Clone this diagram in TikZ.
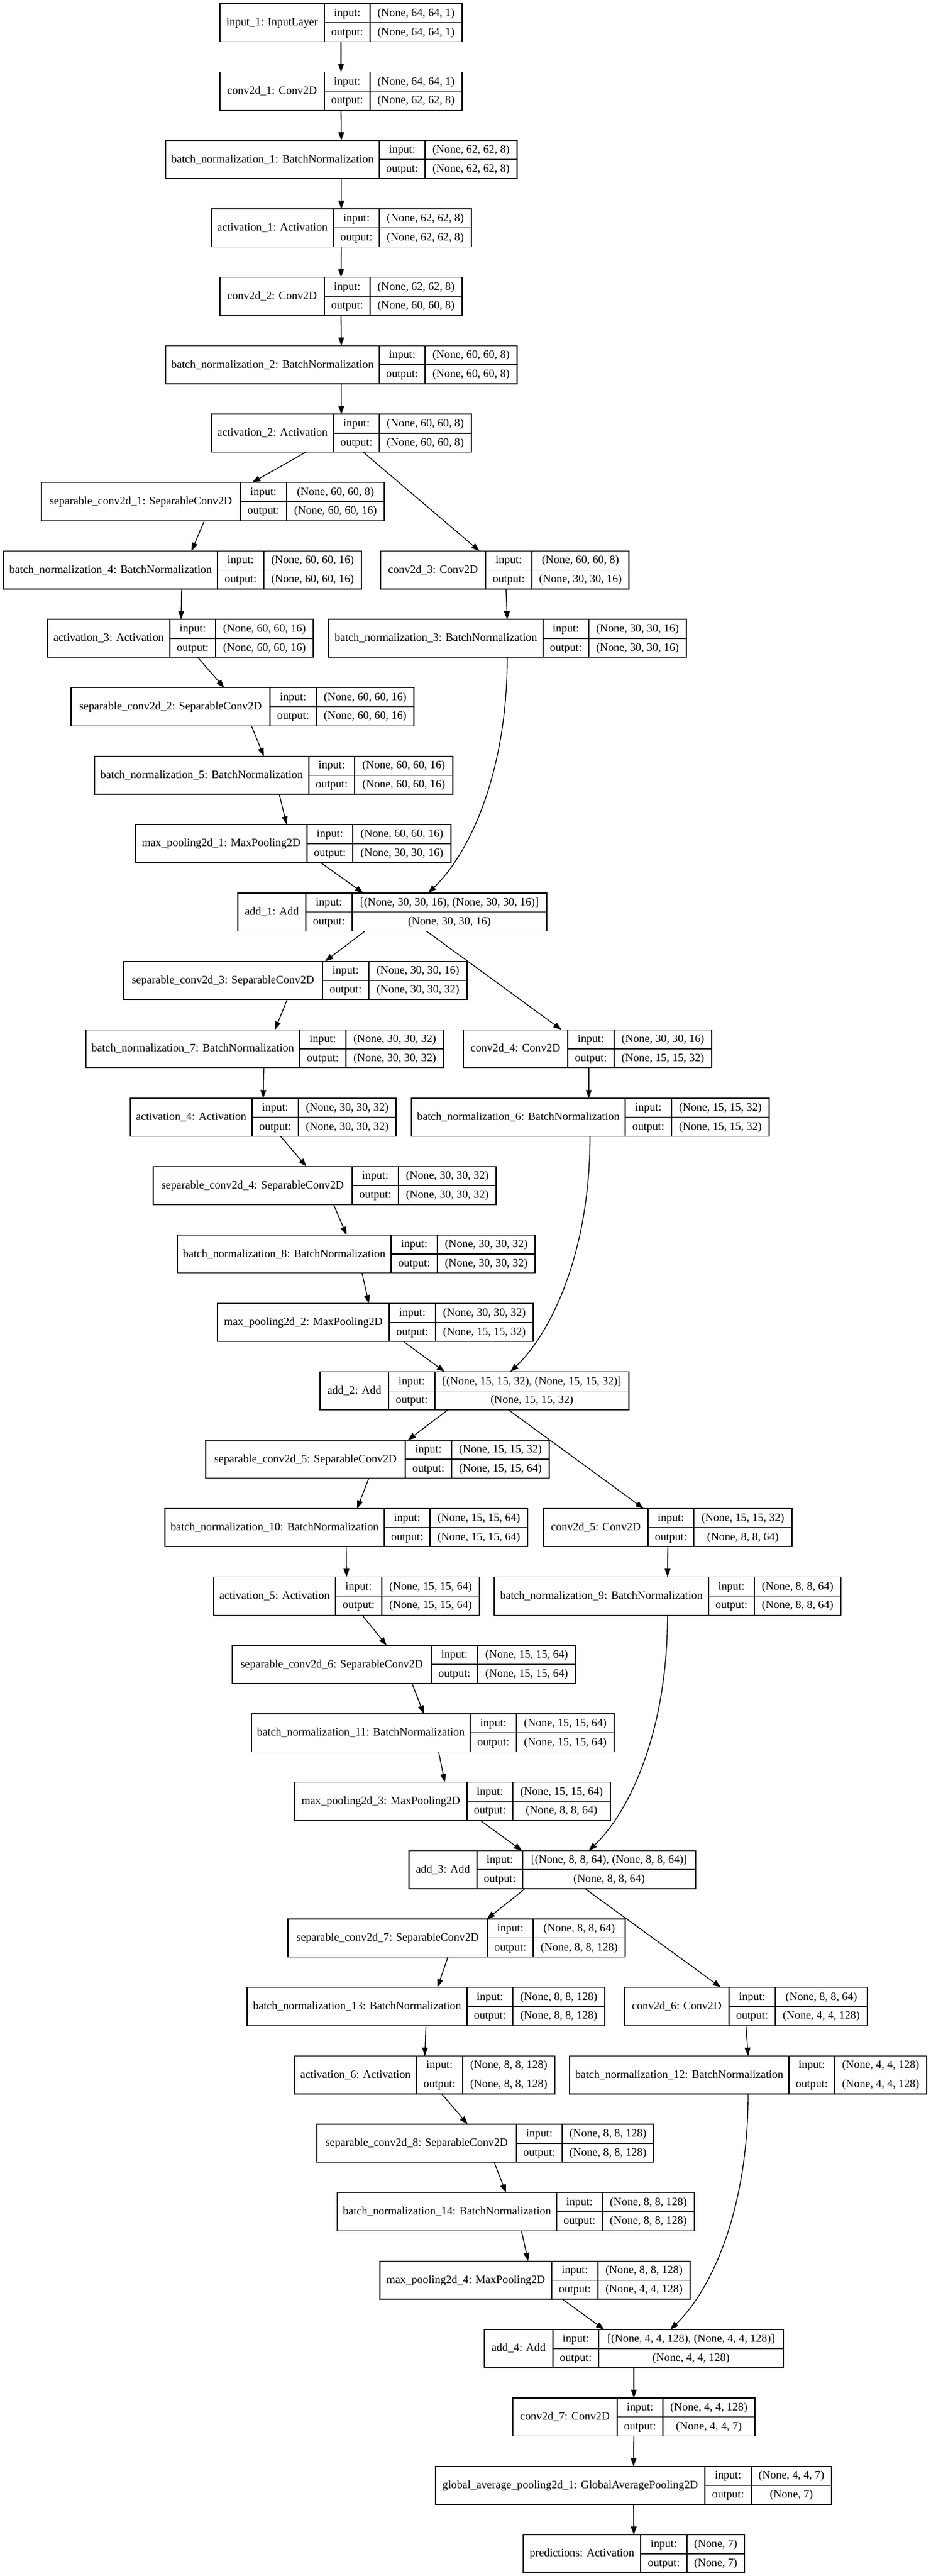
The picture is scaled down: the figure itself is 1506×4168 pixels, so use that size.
\documentclass[tikz,border=0pt]{standalone}
\usepackage{fontspec}
\setmainfont{Liberation Serif}
\usetikzlibrary{arrows.meta,calc,fit}
\tikzset{
  box/.style={draw, line width=1pt, inner sep=0pt, outer sep=0pt},
  cell/.style={line width=1pt},
  txt/.style={inner sep=0pt, anchor=base, font=\fontsize{13.7}{16}\selectfont},
  edge/.style={line width=1pt, -{Triangle[length=10pt,width=7pt]}},
}
\newcommand\kerasLayer[9]{%
  \pgfmathsetmacro\ytop{6+110.68*#2}%
  \pgfmathsetmacro\ybot{\ytop+61.5}%
  \pgfmathsetmacro\ymid{\ytop+30.75}%
  \node[box, fit={(#3,\ytop) (#6,\ybot)}] (#1) {};
  \draw[cell] (#4,\ytop) -- (#4,\ybot) (#5,\ytop) -- (#5,\ybot) (#4,\ymid) -- (#6,\ymid);
  \node[txt] (#1-lab) at ({(#3+#4)/2},\ymid+5) {#7};
  \node[txt] (#1-in) at ({(#4+#5)/2},\ytop+20.4) {input:};
  \node[txt] (#1-out) at ({(#4+#5)/2},\ymid+20.4) {output:};
  \node[txt] (#1-iv) at ({(#5+#6)/2},\ytop+20.4) {#8};
  \node[txt] (#1-ov) at ({(#5+#6)/2},\ymid+20.4) {#9};
}
\newcommand\edgeS[4]{\draw[edge] ($(#1.south)+(#2,0)$) -- ($(#3.north)+(#4,0)$);}
\newcommand\edgeC[4]{\draw[edge] ($(#1.south)+(#2,0)$) .. controls +(0,187) and +(67,-64) .. ($(#3.north)+(#4,0)$);}
\begin{document}
\begin{tikzpicture}[x=0.75pt, y=-0.75pt]
\fill[white] (0,0) rectangle (1506,4168);
\useasboundingbox (0,0) rectangle (1506,4168);
\kerasLayer{in1}{0}{356}{525}{599}{748}{input\_1: InputLayer}{(None, 64, 64, 1)}{(None, 64, 64, 1)}
\kerasLayer{c1}{1}{356}{525}{599}{748}{conv2d\_1: Conv2D}{(None, 64, 64, 1)}{(None, 62, 62, 8)}
\kerasLayer{bn1}{2}{268}{614}{688}{837}{batch\_normalization\_1: BatchNormalization}{(None, 62, 62, 8)}{(None, 62, 62, 8)}
\kerasLayer{a1}{3}{342}{540}{614}{763}{activation\_1: Activation}{(None, 62, 62, 8)}{(None, 62, 62, 8)}
\kerasLayer{c2}{4}{356}{525}{599}{748}{conv2d\_2: Conv2D}{(None, 62, 62, 8)}{(None, 60, 60, 8)}
\kerasLayer{bn2}{5}{268}{614}{688}{837}{batch\_normalization\_2: BatchNormalization}{(None, 60, 60, 8)}{(None, 60, 60, 8)}
\kerasLayer{a2}{6}{342}{540}{614}{763}{activation\_2: Activation}{(None, 60, 60, 8)}{(None, 60, 60, 8)}
\kerasLayer{s1}{7}{67}{389}{464}{622}{separable\_conv2d\_1: SeparableConv2D}{(None, 60, 60, 8)}{(None, 60, 60, 16)}
\kerasLayer{bn4}{8}{6}{352}{427}{585}{batch\_normalization\_4: BatchNormalization}{(None, 60, 60, 16)}{(None, 60, 60, 16)}
\kerasLayer{c3}{8}{616}{786}{861}{1018}{conv2d\_3: Conv2D}{(None, 60, 60, 8)}{(None, 30, 30, 16)}
\kerasLayer{a3}{9}{77}{275}{349}{507}{activation\_3: Activation}{(None, 60, 60, 16)}{(None, 60, 60, 16)}
\kerasLayer{bn3}{9}{532}{879}{953}{1111}{batch\_normalization\_3: BatchNormalization}{(None, 30, 30, 16)}{(None, 30, 30, 16)}
\kerasLayer{s2}{10}{115}{437}{512}{670}{separable\_conv2d\_2: SeparableConv2D}{(None, 60, 60, 16)}{(None, 60, 60, 16)}
\kerasLayer{bn5}{11}{153}{500}{574}{733}{batch\_normalization\_5: BatchNormalization}{(None, 60, 60, 16)}{(None, 60, 60, 16)}
\kerasLayer{mp1}{12}{219}{497}{571}{730}{max\_pooling2d\_1: MaxPooling2D}{(None, 60, 60, 16)}{(None, 30, 30, 16)}
\kerasLayer{add1}{13}{385}{495}{570}{885}{add\_1: Add}{[(None, 30, 30, 16), (None, 30, 30, 16)]}{(None, 30, 30, 16)}
\kerasLayer{s3}{14}{200}{522}{597}{756}{separable\_conv2d\_3: SeparableConv2D}{(None, 30, 30, 16)}{(None, 30, 30, 32)}
\kerasLayer{bn7}{15}{139}{485}{560}{718}{batch\_normalization\_7: BatchNormalization}{(None, 30, 30, 32)}{(None, 30, 30, 32)}
\kerasLayer{c4}{15}{750}{919}{994}{1152}{conv2d\_4: Conv2D}{(None, 30, 30, 16)}{(None, 15, 15, 32)}
\kerasLayer{a4}{16}{211}{408}{483}{641}{activation\_4: Activation}{(None, 30, 30, 32)}{(None, 30, 30, 32)}
\kerasLayer{bn6}{16}{666}{1012}{1087}{1245}{batch\_normalization\_6: BatchNormalization}{(None, 15, 15, 32)}{(None, 15, 15, 32)}
\kerasLayer{s4}{17}{248}{570}{645}{803}{separable\_conv2d\_4: SeparableConv2D}{(None, 30, 30, 32)}{(None, 30, 30, 32)}
\kerasLayer{bn8}{18}{287}{633}{708}{866}{batch\_normalization\_8: BatchNormalization}{(None, 30, 30, 32)}{(None, 30, 30, 32)}
\kerasLayer{mp2}{19}{352}{630}{705}{863}{max\_pooling2d\_2: MaxPooling2D}{(None, 30, 30, 32)}{(None, 15, 15, 32)}
\kerasLayer{add2}{20}{518}{629}{704}{1018}{add\_2: Add}{[(None, 15, 15, 32), (None, 15, 15, 32)]}{(None, 15, 15, 32)}
\kerasLayer{s5}{21}{333}{656}{731}{889}{separable\_conv2d\_5: SeparableConv2D}{(None, 15, 15, 32)}{(None, 15, 15, 64)}
\kerasLayer{bn10}{22}{267}{622}{696}{854}{batch\_normalization\_10: BatchNormalization}{(None, 15, 15, 64)}{(None, 15, 15, 64)}
\kerasLayer{c5}{22}{880}{1049}{1123}{1282}{conv2d\_5: Conv2D}{(None, 15, 15, 32)}{(None, 8, 8, 64)}
\kerasLayer{a5}{23}{346}{543}{618}{776}{activation\_5: Activation}{(None, 15, 15, 64)}{(None, 15, 15, 64)}
\kerasLayer{bn9}{23}{800}{1147}{1221}{1361}{batch\_normalization\_9: BatchNormalization}{(None, 8, 8, 64)}{(None, 8, 8, 64)}
\kerasLayer{s6}{24}{376}{698}{773}{932}{separable\_conv2d\_6: SeparableConv2D}{(None, 15, 15, 64)}{(None, 15, 15, 64)}
\kerasLayer{bn11}{25}{407}{761}{836}{994}{batch\_normalization\_11: BatchNormalization}{(None, 15, 15, 64)}{(None, 15, 15, 64)}
\kerasLayer{mp3}{26}{477}{756}{830}{988}{max\_pooling2d\_3: MaxPooling2D}{(None, 15, 15, 64)}{(None, 8, 8, 64)}
\kerasLayer{add3}{27}{662}{772}{846}{1126}{add\_3: Add}{[(None, 8, 8, 64), (None, 8, 8, 64)]}{(None, 8, 8, 64)}
\kerasLayer{s7}{28}{466}{789}{863}{1012}{separable\_conv2d\_7: SeparableConv2D}{(None, 8, 8, 64)}{(None, 8, 8, 128)}
\kerasLayer{bn13}{29}{400}{756}{830}{979}{batch\_normalization\_13: BatchNormalization}{(None, 8, 8, 128)}{(None, 8, 8, 128)}
\kerasLayer{c6}{29}{1011}{1180}{1255}{1404}{conv2d\_6: Conv2D}{(None, 8, 8, 64)}{(None, 4, 4, 128)}
\kerasLayer{a6}{30}{477}{674}{749}{898}{activation\_6: Activation}{(None, 8, 8, 128)}{(None, 8, 8, 128)}
\kerasLayer{bn12}{30}{922}{1277}{1351}{1500}{batch\_normalization\_12: BatchNormalization}{(None, 4, 4, 128)}{(None, 4, 4, 128)}
\kerasLayer{s8}{31}{513}{836}{910}{1058}{separable\_conv2d\_8: SeparableConv2D}{(None, 8, 8, 128)}{(None, 8, 8, 128)}
\kerasLayer{bn14}{32}{546}{901}{975}{1124}{batch\_normalization\_14: BatchNormalization}{(None, 8, 8, 128)}{(None, 8, 8, 128)}
\kerasLayer{mp4}{33}{615}{893}{968}{1117}{max\_pooling2d\_4: MaxPooling2D}{(None, 8, 8, 128)}{(None, 4, 4, 128)}
\kerasLayer{add4}{34}{784}{895}{969}{1268}{add\_4: Add}{[(None, 4, 4, 128), (None, 4, 4, 128)]}{(None, 4, 4, 128)}
\kerasLayer{c7}{35}{830}{999}{1073}{1222}{conv2d\_7: Conv2D}{(None, 4, 4, 128)}{(None, 4, 4, 7)}
\kerasLayer{gap}{36}{705}{1141}{1216}{1346}{global\_average\_pooling2d\_1: GlobalAveragePooling2D}{(None, 4, 4, 7)}{(None, 7)}
\kerasLayer{pred}{37}{847}{1037}{1112}{1205}{predictions: Activation}{(None, 7)}{(None, 7)}
\edgeS{in1}{0}{c1}{0}
\edgeS{c1}{0}{bn1}{0}
\edgeS{bn1}{0}{a1}{0}
\edgeS{a1}{0}{c2}{0}
\edgeS{c2}{0}{bn2}{0}
\edgeS{bn2}{0}{a2}{0}
\edgeS{a2}{-57.5}{s1}{63.5}
\edgeS{a2}{35.5}{c3}{-41}
\edgeS{s1}{-13.5}{bn4}{14.5}
\edgeS{bn4}{-1.5}{a3}{1}
\edgeS{c3}{2}{bn3}{-0.5}
\edgeS{a3}{28}{s2}{-29.5}
\edgeS{s2}{14.5}{bn5}{-16}
\edgeS{bn5}{9}{mp1}{-10.5}
\edgeS{mp1}{44.5}{add1}{-47}
\edgeC{bn3}{-0.5}{add1}{58}
\edgeS{add1}{-44}{s3}{48}
\edgeS{add1}{55}{c4}{-42}
\edgeS{s3}{-13}{bn7}{16.5}
\edgeS{bn7}{-1.5}{a4}{0}
\edgeS{c4}{2}{bn6}{-2.5}
\edgeS{a4}{28}{s4}{-29.5}
\edgeS{s4}{14.5}{bn8}{-15.5}
\edgeS{bn8}{9.5}{mp2}{-10.5}
\edgeS{mp2}{45.5}{add2}{-48}
\edgeC{bn6}{-0.5}{add2}{58}
\edgeS{add2}{-43}{s5}{49}
\edgeS{add2}{55}{c5}{-39}
\edgeS{s5}{-14}{bn10}{17.5}
\edgeS{bn10}{0}{a5}{0}
\edgeS{c5}{0}{bn9}{0}
\edgeS{a5}{25}{s6}{-28}
\edgeS{s6}{13}{bn11}{-14.5}
\edgeS{bn11}{9.5}{mp3}{-12.5}
\edgeS{mp3}{44.5}{add3}{-49}
\edgeC{bn9}{0}{add3}{59}
\edgeS{add3}{-44}{s7}{49}
\edgeS{add3}{53}{c6}{-40.5}
\edgeS{s7}{-14}{bn13}{18.5}
\edgeS{bn13}{0}{a6}{0}
\edgeS{c6}{0}{bn12}{0}
\edgeS{a6}{27.5}{s8}{-28.5}
\edgeS{s8}{14.5}{bn14}{-16}
\edgeS{bn14}{9}{mp4}{-11}
\edgeS{mp4}{44}{add4}{-48}
\edgeC{bn12}{0}{add4}{59}
\edgeS{add4}{0}{c7}{0}
\edgeS{c7}{0}{gap}{0}
\edgeS{gap}{0}{pred}{0}
\end{tikzpicture}
\end{document}
